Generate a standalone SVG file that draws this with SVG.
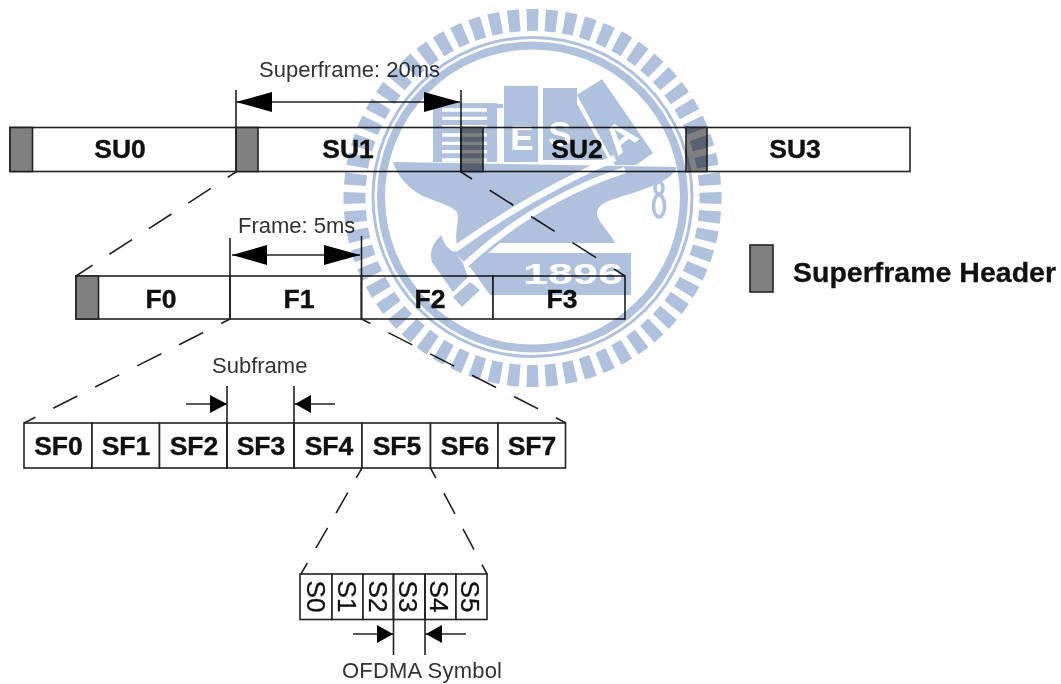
<svg xmlns="http://www.w3.org/2000/svg" width="1061" height="684" viewBox="0 0 1061 684">
<style>
text{font-family:"Liberation Sans",Arial,sans-serif;fill:#111}
.b{font-weight:bold;font-size:26.5px;text-anchor:middle;stroke:#111;stroke-width:.4}
.l{font-size:22px;fill:#333}
.v{font-size:26px;text-anchor:middle;stroke:#111;stroke-width:.3}
.cell{fill:#fff;stroke:#222;stroke-width:1.6}
.hd{fill:#808080;stroke:#222;stroke-width:1.6}
.ln{stroke:#222;stroke-width:1.6;fill:none}
.da{stroke:#222;stroke-width:1.6;fill:none;stroke-dasharray:27 20;stroke-dashoffset:17}
.dr{stroke:#222;stroke-width:1.6;fill:none;stroke-dasharray:28 21;stroke-dashoffset:15}
.db{stroke:#222;stroke-width:1.6;fill:none;stroke-dasharray:23.500 17;stroke-dashoffset:12}
.ah{fill:#000}
.wm{fill:#b0c1de}
.wt{fill:#fff;font-weight:bold;text-anchor:middle;stroke:none}
.ws{stroke:#fff;fill:none;stroke-linejoin:round}
.wo{fill:none;stroke:#b0c1de}
</style>
<rect width="1061" height="684" fill="#fff"/>
<g id="su0"><rect class="cell" x="10" y="127.5" width="226" height="44"/><rect class="hd" x="10" y="127.5" width="22.500" height="44"/><text class="b" x="120" y="158">SU0</text></g>
<g id="su1"><rect class="cell" x="236" y="127.5" width="225" height="44"/><rect class="hd" x="236" y="127.5" width="22" height="44"/><text class="b" x="348" y="158">SU1</text></g>
<g id="su2"><rect class="cell" x="461" y="127.5" width="226" height="44"/><rect class="hd" x="461" y="127.5" width="22" height="44"/><text class="b" x="577" y="158">SU2</text></g>
<g id="su3"><rect class="cell" x="687" y="127.5" width="223" height="44"/><rect class="hd" x="686" y="127.5" width="21" height="44"/><text class="b" x="795" y="158">SU3</text></g>
<g id="f0"><rect class="cell" x="76" y="276" width="154" height="43"/><rect class="hd" x="76" y="276" width="22.500" height="43"/><text class="b" x="161" y="308">F0</text></g>
<g id="f1"><rect class="cell" x="230" y="276" width="131.500" height="43"/><text class="b" x="299" y="308">F1</text></g>
<g id="f2"><rect class="cell" x="361.500" y="276" width="131.500" height="43"/><text class="b" x="430" y="308">F2</text></g>
<g id="f3"><rect class="cell" x="493" y="276" width="132" height="43"/><text class="b" x="562" y="308">F3</text></g>
<g id="sf0"><rect class="cell" x="24" y="423" width="68" height="45"/><text class="b" x="58.500" y="455">SF0</text></g>
<g id="sf1"><rect class="cell" x="92" y="423" width="67.500" height="45"/><text class="b" x="126" y="455">SF1</text></g>
<g id="sf2"><rect class="cell" x="159.500" y="423" width="67.500" height="45"/><text class="b" x="194" y="455">SF2</text></g>
<g id="sf3"><rect class="cell" x="227" y="423" width="67" height="45"/><text class="b" x="261" y="455">SF3</text></g>
<g id="sf4"><rect class="cell" x="294" y="423" width="68" height="45"/><text class="b" x="329" y="455">SF4</text></g>
<g id="sf5"><rect class="cell" x="362" y="423" width="68.500" height="45"/><text class="b" x="397" y="455">SF5</text></g>
<g id="sf6"><rect class="cell" x="430.500" y="423" width="67.500" height="45"/><text class="b" x="465" y="455">SF6</text></g>
<g id="sf7"><rect class="cell" x="498" y="423" width="67.500" height="45"/><text class="b" x="532" y="455">SF7</text></g>
<g id="s0"><rect class="cell" x="300" y="574" width="32" height="45.500"/><text class="v" transform="translate(307 596.500) rotate(90)">S0</text></g>
<g id="s1"><rect class="cell" x="332" y="574" width="31" height="45.500"/><text class="v" transform="translate(338 596.500) rotate(90)">S1</text></g>
<g id="s2"><rect class="cell" x="363" y="574" width="30.500" height="45.500"/><text class="v" transform="translate(369 596.500) rotate(90)">S2</text></g>
<g id="s3"><rect class="cell" x="393.500" y="574" width="31.500" height="45.500"/><text class="v" transform="translate(399 596.500) rotate(90)">S3</text></g>
<g id="s4"><rect class="cell" x="425" y="574" width="31" height="45.500"/><text class="v" transform="translate(430 596.500) rotate(90)">S4</text></g>
<g id="s5"><rect class="cell" x="456" y="574" width="31" height="45.500"/><text class="v" transform="translate(461 596.500) rotate(90)">S5</text></g>
<g id="legend"><rect class="hd" x="750" y="245" width="23" height="47"/><text x="793" y="282" font-size="28" font-weight="bold" textLength="263" lengthAdjust="spacingAndGlyphs" stroke="#111" stroke-width=".3">Superframe Header</text></g>
<g id="labels">
<text class="l" x="259" y="77">Superframe: 20ms</text>
<text class="l" x="238" y="233">Frame: 5ms</text>
<text class="l" x="212" y="373">Subframe</text>
<text class="l" x="342" y="678" textLength="160">OFDMA Symbol</text>
</g>
<g id="connectors">
<path class="ln" d="M236 90V172M461 90V172M236 102H460M230 238V319M361.500 236V319M232 255H360M227 386V468M294 386V468M186 404H227M294 404H335M393.500 574V655M425 574V655M353 634H393.500M425 634H466"/>
<path class="ah" d="M236 102L272 92V112ZM460 102L424 92V112ZM232 255L267 245V265ZM360 255L324 245V265ZM227 404L210 395V413ZM295 404L311 395V413ZM393 634L377 625V643ZM426 634L442 625V643Z"/>
<path class="da" d="M236 172L76 276"/>
<path class="dr" d="M461 172L625 276"/>
<path class="da" d="M230 319L24 423"/>
<path class="da" d="M361.500 319L566 423"/>
<path class="db" d="M362 468L301 574"/>
<path class="db" d="M430.500 468L487 574"/>
</g>
<g id="watermark" style="mix-blend-mode:multiply">
<circle cx="532.500" cy="198" r="178" fill="none" stroke="#b0c1de" stroke-width="22" pathLength="60" stroke-dasharray="0.62 0.38" stroke-dashoffset="0.31"/>
<circle cx="532.500" cy="197" r="159.500" class="wo" stroke-width="3"/>
<circle cx="532.500" cy="197" r="151.500" class="wo" stroke-width="8"/>
<rect class="wm" x="433" y="103" width="64" height="59"/><rect class="wm" x="497" y="104" width="6" height="4"/>
<path class="ws" stroke-width="3.300" d="M442 110H487M442 118.300H487M442 126.600H487M442 135H487M442 143.300H487M442 151.600H487M442 160H487"/>
<rect class="wm" x="504" y="86" width="34" height="76"/>
<path class="wm" d="M543 88H577V104L609 160H543Z"/>
<path class="wm" d="M602 79L653 153L636 165H615L577 95Z"/>
<text class="wt" x="522" y="150" font-size="35">E</text>
<text class="wt" x="560" y="146" font-size="35">S</text>
<text class="wt" font-size="40" transform="translate(629 147.500) rotate(-39)">A</text>
<path class="wm" d="M393 162L677 167C672 180 650 188 620 197C605 202 596 205 597 215C600 225 610 232 615 243H500L470 268L455 253L457 245C454 232 460 220 457 212C450 205 440 203 425 197C410 190 398 178 393 162Z"/>
<path class="wm" d="M441.500 235C433 243 429 252 432 262L453 292L468 277L463 263L455 252C448 250 443 243 441.500 235Z"/>
<path class="wm" d="M453 297L470 282L480 290L462 307Z"/>
<path class="ws" stroke-width="6.500" d="M455 249Q530 195 615 158"/>
<path class="ws" stroke-width="6.500" d="M465 265Q535 200 625 170"/>
<path class="wm" d="M483 253H631V295H490L470 267Z"/>
<text class="wt" x="573" y="284" font-size="29" textLength="100" lengthAdjust="spacingAndGlyphs">1896</text>
<ellipse cx="659" cy="188" rx="4" ry="6" class="wo" stroke-width="3.500"/>
<ellipse cx="659" cy="206" rx="5.500" ry="11" class="wo" stroke-width="3.500"/>
</g>
</svg>
